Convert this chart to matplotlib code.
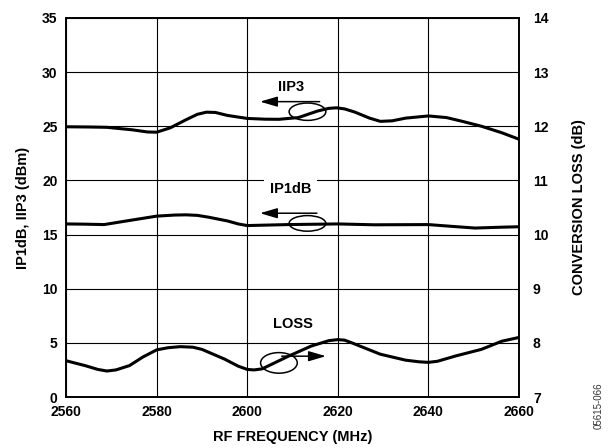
import matplotlib.pyplot as plt
from matplotlib.patches import Ellipse

plt.rcParams['font.family'] = ['Liberation Sans', 'DejaVu Sans']
plt.rcParams['font.weight'] = 'bold'

# IIP3 (dBm), left axis
iip3_freq = [2560, 2565, 2569, 2574.6, 2578, 2580, 2583, 2586.5, 2589, 2591, 2593, 2595.6, 2600,
             2604, 2607, 2611.3, 2615.5, 2618, 2619.7, 2621.5, 2623.8, 2627, 2629.4, 2632, 2635,
             2640, 2644, 2647.5, 2651.7, 2656.2, 2660]
iip3 = [24.95, 24.93, 24.9, 24.67, 24.47, 24.45, 24.85, 25.6, 26.1, 26.3, 26.27, 26.0, 25.72,
        25.65, 25.64, 25.8, 26.4, 26.65, 26.7, 26.6, 26.3, 25.75, 25.45, 25.5, 25.75,
        25.95, 25.8, 25.45, 25.0, 24.4, 23.8]

# IP1dB (dBm), left axis
ip1db_freq = [2560, 2564, 2568.4, 2574, 2580, 2584, 2586.5, 2589, 2591.5, 2595.7, 2598, 2600,
              2609, 2620, 2628, 2640, 2644.7, 2650.3, 2656.2, 2660]
ip1db = [15.98, 15.96, 15.92, 16.3, 16.7, 16.8, 16.82, 16.77, 16.6, 16.25, 15.98, 15.83,
         15.92, 15.98, 15.9, 15.92, 15.77, 15.6, 15.68, 15.72]

# conversion loss (dB), right axis
loss_freq = [2560, 2564.2, 2567, 2569, 2571, 2574, 2577, 2580, 2582.5, 2585.2, 2588, 2590, 2595,
             2598, 2600, 2601.5, 2603.3, 2609, 2614.1, 2618, 2620, 2621.5, 2623.1, 2629.4,
             2635, 2638, 2640, 2642, 2646.1, 2651.7, 2656.2, 2660]
loss = [7.67, 7.58, 7.51, 7.48, 7.5, 7.58, 7.74, 7.87, 7.91, 7.93, 7.92, 7.88, 7.70,
        7.57, 7.51, 7.5, 7.52, 7.75, 7.94, 8.04, 8.06, 8.05, 8.0, 7.79,
        7.68, 7.65, 7.64, 7.66, 7.76, 7.88, 8.03, 8.10]

x_ticks = [2560, 2580, 2600, 2620, 2640, 2660]
left_ticks = [0, 5, 10, 15, 20, 25, 30, 35]
right_ticks = [7, 8, 9, 10, 11, 12, 13, 14]

fig = plt.figure(figsize=(6.08, 4.48), dpi=100)
ax = fig.add_axes([0.1086, 0.1138, 0.745, 0.8462])
ax2 = ax.twinx()

ax.set_xlim(2560, 2660)
ax.set_ylim(0, 35)
ax2.set_ylim(7, 14)
ax.set_xticks(x_ticks)
ax.set_yticks(left_ticks)
ax2.set_yticks(right_ticks)
ax.grid(True, color='black', linewidth=0.8)
ax.set_axisbelow(True)

ax.tick_params(length=0, labelsize=10, pad=6)
ax2.tick_params(length=0, labelsize=10, pad=10)
for a in (ax, ax2):
    for s in a.spines.values():
        s.set_linewidth(1.2)

ax.plot(iip3_freq, iip3, color='black', linewidth=2.2, solid_joinstyle='round', solid_capstyle='butt')
ax.plot(ip1db_freq, ip1db, color='black', linewidth=2.2, solid_joinstyle='round', solid_capstyle='butt')
ax2.plot(loss_freq, loss, color='black', linewidth=2.2, solid_joinstyle='round', solid_capstyle='butt')

ax.set_xlabel('RF FREQUENCY (MHz)', fontsize=10.5, fontweight='bold', labelpad=8)
ax.set_ylabel('IP1dB, IIP3 (dBm)', fontsize=10.5, fontweight='bold', labelpad=9)
ax2.set_ylabel('CONVERSION LOSS (dB)', fontsize=10.5, fontweight='bold', labelpad=17)

# annotations
arrow = dict(arrowstyle='-|>,head_length=0.75,head_width=0.22', color='black', lw=1.1, mutation_scale=14)

ax.text(2609.6, 28.66, 'IIP3', ha='center', va='center', fontsize=10.5, fontweight='bold')
ax.add_patch(Ellipse((2613.3, 26.34), 8.1, 1.6, fill=False, edgecolor='black', linewidth=1.1))
ax.annotate('', xy=(2602.2, 27.27), xytext=(2616.6, 27.27), arrowprops=arrow)

ax.text(2609.6, 19.25, 'IP1dB', ha='center', va='center', fontsize=10.5, fontweight='bold',
        bbox=dict(facecolor='white', edgecolor='none', pad=4))
ax.add_patch(Ellipse((2613.3, 16.03), 8.1, 1.44, fill=False, edgecolor='black', linewidth=1.1))
ax.annotate('', xy=(2602.2, 16.97), xytext=(2616.0, 16.97), arrowprops=arrow)

ax.text(2610, 6.7, 'LOSS', ha='center', va='center', fontsize=10.5, fontweight='bold')
ax.add_patch(Ellipse((2607, 3.15), 8.1, 1.9, fill=False, edgecolor='black', linewidth=1.1))
ax.annotate('', xy=(2618, 3.77), xytext=(2607, 3.77), arrowprops=arrow)

fig.text(0.985, 0.095, '05615-066', rotation=90, ha='center', va='center',
         fontsize=7, fontweight='normal', color='#333333')

plt.savefig('out.png', dpi=100)
